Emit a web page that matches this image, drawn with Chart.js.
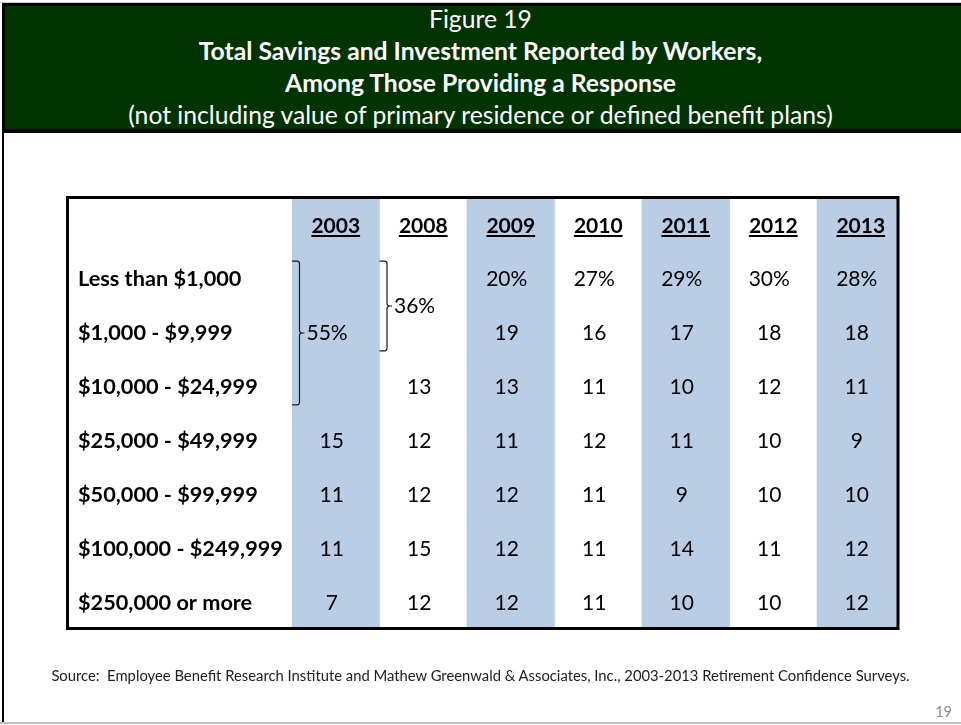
<!DOCTYPE html>
<html>
<head>
<meta charset="utf-8">
<script src="https://cdn.jsdelivr.net/npm/chart.js@4.4.1/dist/chart.umd.min.js"></script>
<style>
  html, body { margin: 0; padding: 0; background: #fff; }
  body { width: 961px; height: 725px; position: relative; overflow: hidden; font-family: Lato, "Open Sans", sans-serif; }
  #topline { position: absolute; left: 0; top: 2px; width: 961px; height: 1px; background: #c8c8c8; }
  #banner { position: absolute; left: 2px; top: 3px; width: 959px; height: 130px; box-sizing: border-box;
            background: #013301; border-top: 3px solid #000; border-left: 3px solid #000; border-bottom: 4px solid #000; }
  #titles { position: absolute; left: 0; top: 3px; width: 961px; text-align: center; color: #fff; }
  #titles div { height: 32px; line-height: 32px; white-space: nowrap; font-size: 24.7px; }
  #titles .b { font-weight: bold; }
  #leftline { position: absolute; left: 2px; top: 133px; width: 2px; height: 590px; background: #000; }
  #bottomline { position: absolute; left: 0; top: 722px; width: 961px; height: 2px; background: #c0c0c0; }
  #source { position: absolute; left: 0; top: 666px; width: 961px; text-align: center; font-size: 14.8px; color: #222; white-space: nowrap; }
  #pagenum { position: absolute; right: 9px; top: 703px; font-size: 14.5px; color: #8c8c8c; }
  #wrap { position: absolute; left: 0; top: 0; width: 961px; height: 725px; }
</style>
</head>
<body>
<div id="wrap"><canvas id="c" width="961" height="725"></canvas></div>
<div id="topline"></div>
<div id="banner"></div>
<div id="titles">
  <div>Figure 19</div>
  <div class="b">Total Savings and Investment Reported by Workers,</div>
  <div class="b">Among Those Providing a Response</div>
  <div>(not including value of primary residence or defined benefit plans)</div>
</div>
<div id="leftline"></div>
<div id="bottomline"></div>
<div id="source">Source:&nbsp; Employee Benefit Research Institute and Mathew Greenwald &amp; Associates, Inc., 2003-2013 Retirement Confidence Surveys.</div>
<div id="pagenum">19</div>
<script>
// ---- data ----
const years = ['2003', '2008', '2009', '2010', '2011', '2012', '2013'];
const rowLabels = ['Less than $1,000', '$1,000 - $9,999', '$10,000 - $24,999', '$25,000 - $49,999',
                   '$50,000 - $99,999', '$100,000 - $249,999', '$250,000 or more'];
const v2003 = [null, null, null, 15, 11, 11, 7];
const v2008 = [null, null, 13, 12, 12, 15, 12];
const v2009 = [20, 19, 13, 11, 12, 12, 12];
const v2010 = [27, 16, 11, 12, 11, 11, 11];
const v2011 = [29, 17, 10, 11, 9, 14, 10];
const v2012 = [30, 18, 12, 10, 10, 11, 10];
const v2013 = [28, 18, 11, 9, 10, 12, 12];
// combined cells (year, first row, last row, value)
const groupYears = ['2003', '2008'];
const groupFirstRow = [0, 0];
const groupLastRow = [2, 1];
const groupValues = [55, 36];

const series = [v2003, v2008, v2009, v2010, v2011, v2012, v2013];

// ---- layout / style ----
const Y_MIN = -0.5, Y_MAX = 7.463;
const FONT = 'Lato, "Open Sans", sans-serif';
const BORDER = { left: 67.5, top: 197.5, right: 898, bottom: 628.5 };

const shadeData = years.map((yr, i) => (i % 2 === 0 ? [Y_MIN, Y_MAX] : null));

const tablePlugin = {
  id: 'tableText',
  afterDatasetsDraw(chart) {
    const { ctx, scales: { x, y } } = chart;
    const colW = x.getPixelForValue(1) - x.getPixelForValue(0);
    ctx.save();
    ctx.fillStyle = '#000';
    ctx.textBaseline = 'alphabetic';

    // header years (bold, underlined)
    ctx.font = 'bold 21px ' + FONT;
    ctx.textAlign = 'center';
    years.forEach((yr, i) => {
      const cx = x.getPixelForValue(i);
      const by = y.getPixelForValue(0) + 8;
      ctx.fillText(yr, cx, by);
      const w = ctx.measureText(yr).width;
      ctx.fillRect(cx - w / 2, by + 2, w, 2);
    });

    // row labels
    ctx.font = 'bold 21.7px ' + FONT;
    ctx.textAlign = 'left';
    rowLabels.forEach((lab, r) => {
      ctx.fillText(lab, 78, y.getPixelForValue(r + 1) + 7.5);
    });

    // values
    ctx.font = '21px ' + FONT;
    ctx.textAlign = 'center';
    series.forEach((vals, i) => {
      const cx = x.getPixelForValue(i) - 4;
      vals.forEach((v, r) => {
        if (v === null) return;
        const txt = r === 0 ? v + '%' : String(v);
        ctx.fillText(txt, cx, y.getPixelForValue(r + 1) + 7.5);
      });
    });

    // brackets for combined cells
    ctx.strokeStyle = '#1a1a1a';
    ctx.lineWidth = 1.2;
    groupYears.forEach((yr, g) => {
      const i = years.indexOf(yr);
      const left = x.getPixelForValue(i) - colW / 2;
      const vx = left + 7.5;
      const top = y.getPixelForValue(groupFirstRow[g] + 1 - 0.33);
      const bot = y.getPixelForValue(groupLastRow[g] + 1 + 0.33);
      const mid = y.getPixelForValue((groupFirstRow[g] + groupLastRow[g]) / 2 + 1);
      ctx.beginPath();
      ctx.moveTo(left, top);
      ctx.lineTo(vx - 2.5, top);
      ctx.quadraticCurveTo(vx, top, vx, top + 2.5);
      ctx.lineTo(vx, mid - 2.5);
      ctx.quadraticCurveTo(vx, mid, vx + 3, mid);
      ctx.lineTo(vx + 5, mid);
      ctx.moveTo(vx + 3, mid);
      ctx.quadraticCurveTo(vx, mid, vx, mid + 2.5);
      ctx.lineTo(vx, bot - 2.5);
      ctx.quadraticCurveTo(vx, bot, vx - 2.5, bot);
      ctx.lineTo(left, bot);
      ctx.stroke();
      ctx.textAlign = 'left';
      ctx.font = '21px ' + FONT;
      ctx.fillText(groupValues[g] + '%', vx + 7, mid + 7.5);
    });

    // table border
    ctx.strokeStyle = '#000';
    ctx.lineWidth = 3;
    ctx.strokeRect(BORDER.left, BORDER.top, BORDER.right - BORDER.left, BORDER.bottom - BORDER.top);
    ctx.restore();
  }
};

new Chart(document.getElementById('c'), {
  type: 'bar',
  data: {
    labels: years,
    datasets: [{
      data: shadeData,
      backgroundColor: '#b9cde5',
      borderWidth: 0,
      barPercentage: 1,
      categoryPercentage: 1,
      clip: { left: 0, top: 0, right: -6.5, bottom: 0 }
    }]
  },
  options: {
    responsive: false,
    animation: false,
    devicePixelRatio: 1,
    layout: { padding: { left: 292, right: 56.5, top: 198, bottom: 97 } },
    plugins: { legend: { display: false }, title: { display: false }, tooltip: { enabled: false } },
    scales: {
      x: { type: 'category', display: false, offset: true, grid: { display: false } },
      y: { type: 'linear', display: false, reverse: true, min: Y_MIN, max: Y_MAX }
    }
  },
  plugins: [tablePlugin]
});
</script>
</body>
</html>
